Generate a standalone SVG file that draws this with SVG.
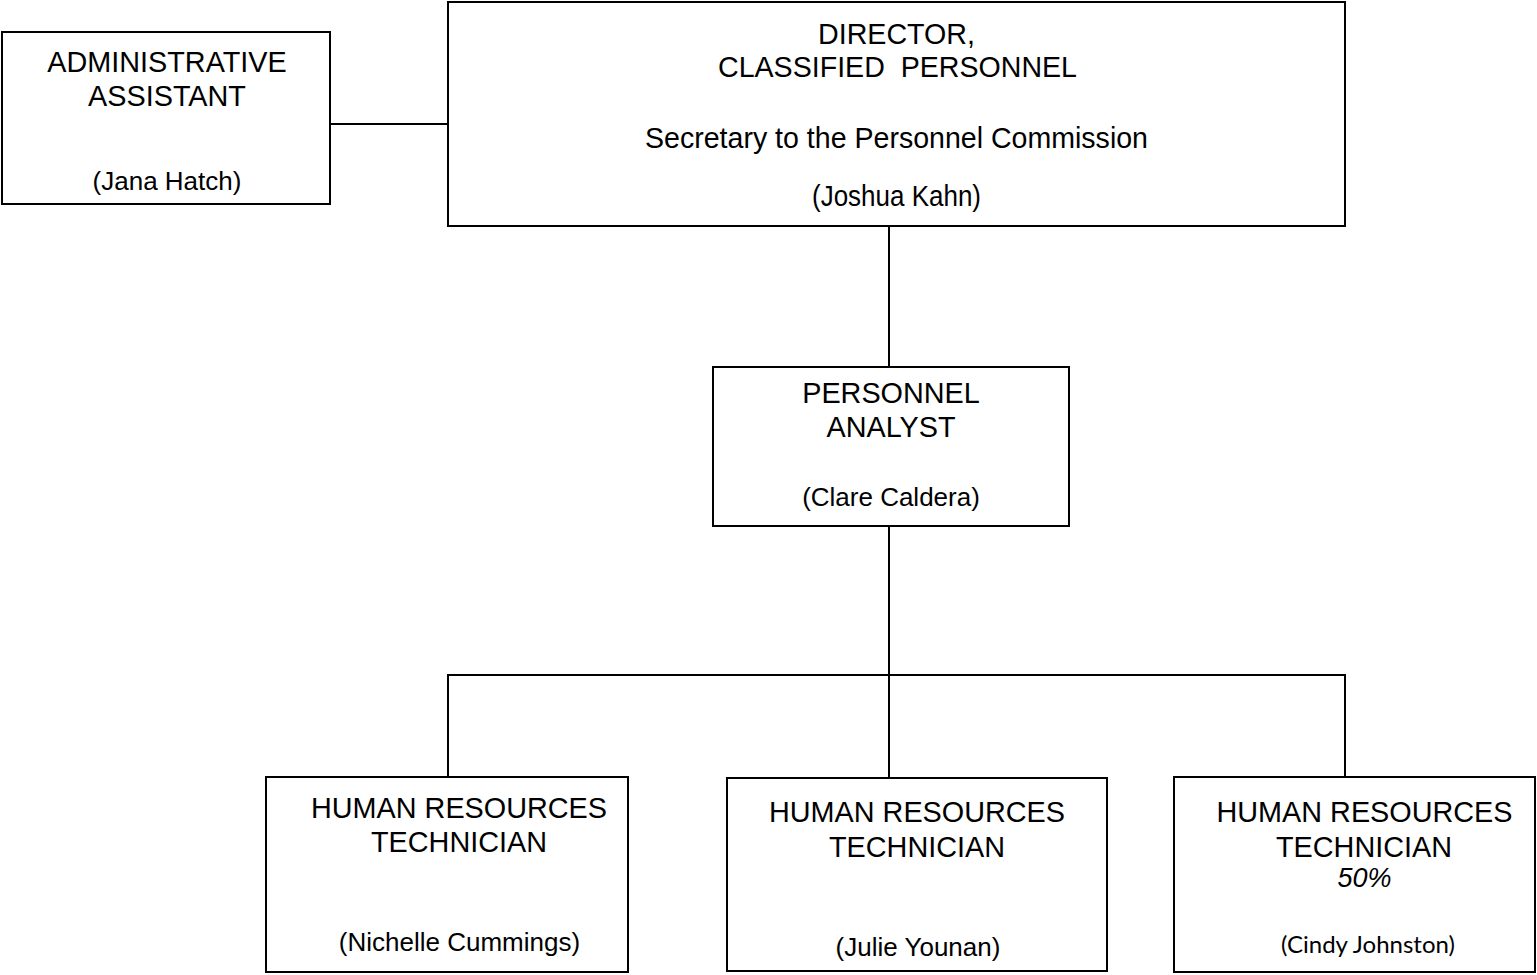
<svg xmlns="http://www.w3.org/2000/svg" width="1537" height="975" viewBox="0 0 1537 975">
<style>
.box{fill:#fff;stroke:#000;stroke-width:2}
.ln{stroke:#000;stroke-width:2;fill:none}
text{font-family:"Liberation Sans",Arial,sans-serif;fill:#000;text-anchor:middle}
.t{font-size:28.8px}
.n{font-size:26px}
.c{font-size:29px}
.i{font-size:27px;font-style:italic}
.cal{font-family:Lato,"Open Sans",sans-serif;font-size:24px}
</style>
<rect width="1537" height="975" fill="#fff"/>
<g id="connectors">
<line class="ln" x1="330" y1="124" x2="448" y2="124"/>
<line class="ln" x1="889" y1="226" x2="889" y2="367"/>
<line class="ln" x1="889" y1="526" x2="889" y2="779"/>
<polyline class="ln" points="448,777 448,675 1345,675 1345,777"/>
</g>
<g id="admin">
<rect class="box" x="2" y="32" width="328" height="172"/>
<text class="t" x="167" y="72">ADMINISTRATIVE</text>
<text class="t" x="167" y="106">ASSISTANT</text>
<text class="n" x="167" y="190">(Jana Hatch)</text>
</g>
<g id="director">
<rect class="box" x="448" y="2" width="897" height="224"/>
<text class="c" x="896.5" y="44" textLength="157" lengthAdjust="spacingAndGlyphs">DIRECTOR,</text>
<text class="c" x="897.5" y="77" xml:space="preserve" textLength="359" lengthAdjust="spacingAndGlyphs">CLASSIFIED  PERSONNEL</text>
<text class="c" x="896.5" y="148" textLength="503" lengthAdjust="spacingAndGlyphs">Secretary to the Personnel Commission</text>
<text class="c" x="896.5" y="206" textLength="169" lengthAdjust="spacingAndGlyphs">(Joshua Kahn)</text>
</g>
<g id="analyst">
<rect class="box" x="713" y="367" width="356" height="159"/>
<text class="t" x="891" y="403">PERSONNEL</text>
<text class="t" x="891" y="437">ANALYST</text>
<text class="n" x="891" y="506">(Clare Caldera)</text>
</g>
<g id="hr1">
<rect class="box" x="266" y="777" width="362" height="195"/>
<text class="t" x="459" y="818">HUMAN RESOURCES</text>
<text class="t" x="459" y="852">TECHNICIAN</text>
<text class="n" x="459.5" y="951">(Nichelle Cummings)</text>
</g>
<g id="hr2">
<rect class="box" x="727" y="778" width="380" height="193"/>
<text class="t" x="917" y="822">HUMAN RESOURCES</text>
<text class="t" x="917" y="857">TECHNICIAN</text>
<text class="n" x="918" y="956">(Julie Younan)</text>
</g>
<g id="hr3">
<rect class="box" x="1174" y="777" width="361" height="195"/>
<text class="t" x="1364.5" y="822">HUMAN RESOURCES</text>
<text class="t" x="1364" y="857">TECHNICIAN</text>
<text class="i" x="1364.5" y="887">50%</text>
<text class="cal" x="1368" y="953">(Cindy Johnston)</text>
</g>
</svg>
